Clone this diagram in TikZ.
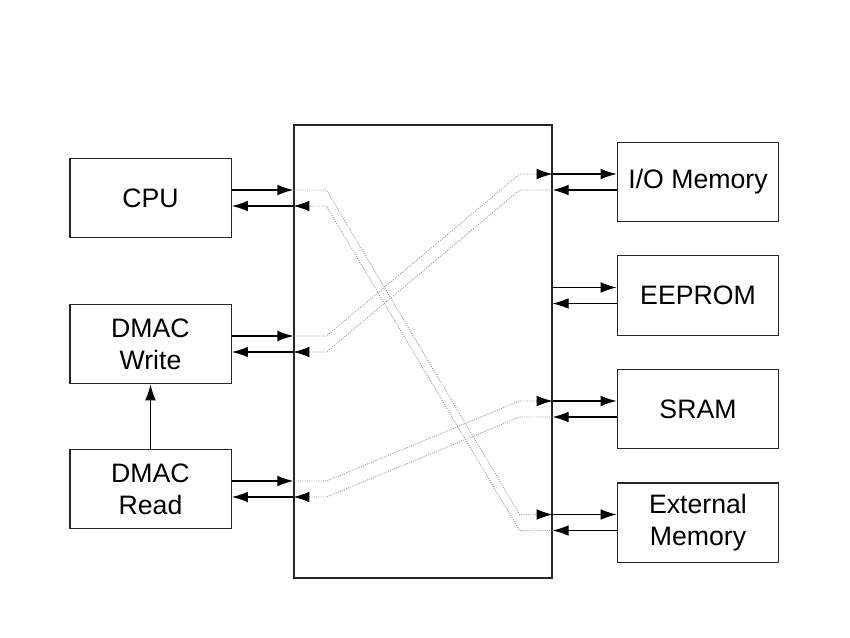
\documentclass[tikz,border=0pt]{standalone}
\usepackage{fontspec}
\setmainfont{Liberation Sans}
\usetikzlibrary{arrows.meta,calc}
\tikzset{
  unit/.style={draw=black!85,line width=1pt,minimum width=121pt,minimum height=59.5pt,inner sep=0pt,align=center,font=\fontsize{20}{24}\selectfont},
  tip/.style={-{Latex[length=12pt,width=8pt]}},
  link/.style={line width=0.9pt,tip},
  route/.style={gray!80,densely dotted,line width=0.7pt,-{Latex[length=12pt,width=8pt,color=black]}}
}
\begin{document}
\begin{tikzpicture}[x=0.75pt,y=-0.75pt]
        \useasboundingbox (0,0) rectangle (850,638);
        %% masters
        \node[unit] (cpu) at (150.5,198) {CPU};
        \node[unit] (dmacw) at (150.5,344) {DMAC\\Write};
        \node[unit] (dmacr) at (150.5,489) {DMAC\\Read};
        %% bus matrix
        \node[draw=black!85,line width=0.9pt,minimum width=193.5pt,minimum height=339.75pt] (bus) at (423,351.5) {};
        %% slaves
        \node[unit] (io) at (698,182) {I/O Memory};
        \node[unit] (eeprom) at (698,295.5) {EEPROM};
        \node[unit] (sram) at (698,409) {SRAM};
        \node[unit] (ext) at (698,522.5) {External\\Memory};
        \draw[link] (dmacr.north) -- (dmacw.south);
        %% ports
        \foreach \n in {cpu,dmacw,dmacr} {
            \path ($(\n.east)+(0,-8)$) coordinate (\n-a) ($(\n.east)+(0,8)$) coordinate (\n-b);
            \draw[link] (\n-a) -- (\n-a -| bus.west);
            \draw[link] (\n-b -| bus.west) -- (\n-b);
        }
        \foreach \n in {io,eeprom,sram,ext} {
            \path ($(\n.west)+(0,-8)$) coordinate (\n-a) ($(\n.west)+(0,8)$) coordinate (\n-b);
            \draw[link] (\n-a -| bus.east) -- (\n-a);
            \draw[link] (\n-b) -- (\n-b -| bus.east);
        }
        %% routes through the matrix
        \foreach \s/\d in {cpu/ext,dmacw/io,dmacr/sram} {
            \draw[route] (\s-a -| bus.west) -- ++(33,0) -- ($(\d-a -| bus.east)+(-33,0)$) -- (\d-a -| bus.east);
            \draw[route] (\d-b -| bus.east) -- ++(-33,0) -- ($(\s-b -| bus.west)+(33,0)$) -- (\s-b -| bus.west);
        }
\end{tikzpicture}
\end{document}
